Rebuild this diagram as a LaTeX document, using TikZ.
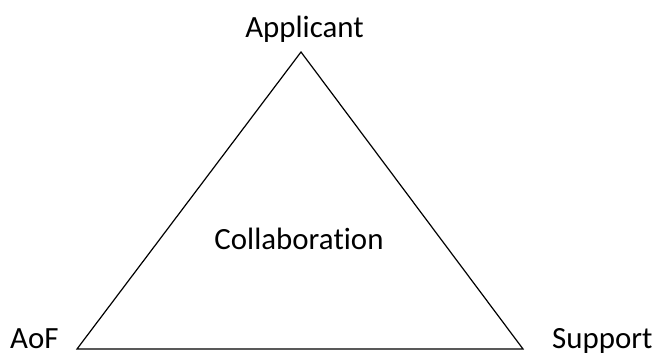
\documentclass[tikz,border=0pt]{standalone}
\usepackage{fontspec}
\setmainfont[Ligatures={NoCommon,NoRequired,NoContextual}]{Carlito}
\begin{document}
\begin{tikzpicture}[x=1bp,y=1bp,
  lbl/.style={inner sep=0pt,font=\fontsize{31}{36}\selectfont}]
\useasboundingbox (0,0) rectangle (657,355);
\coordinate (top) at (301,303);
\coordinate (bl) at (77,6);
\coordinate (br) at (523,6);
\draw[line width=1.2bp,line join=miter] (top) -- (bl) -- (br) -- cycle;
\node[lbl,anchor=base] (app) at (304.5,318) {Applicant};
\node[lbl,anchor=base west] (aof) at (10,7) {AoF};
\node[lbl,anchor=base west] (sup) at (552,7) {Support};
\node[lbl,anchor=base] (col) at (299,106) {Collabora\kern0pt tion};
\end{tikzpicture}
\end{document}
